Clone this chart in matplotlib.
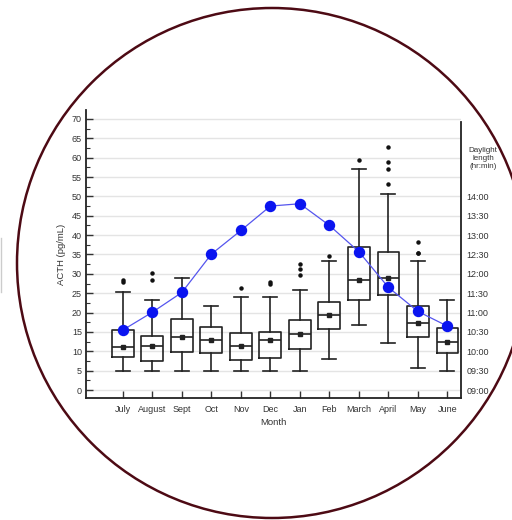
#!/usr/bin/env python3

import numpy as np
import matplotlib
matplotlib.use("Agg")
import matplotlib.pyplot as plt
from matplotlib.patches import Ellipse

plt.rcParams['font.family'] = ['Liberation Sans', 'DejaVu Sans']

months = ["July", "August", "Sept", "Oct", "Nov", "Dec", "Jan", "Feb",
          "March", "April", "May", "June"]

# ACTH (pg/mL) box statistics
whislo = [5, 5, 5, 5, 5, 5, 5, 8.1, 16.8, 12.2, 5.8, 5]
q1 = [8.5, 7.6, 9.8, 9.5, 7.8, 8.4, 10.5, 15.7, 23.3, 24.6, 13.6, 9.5]
med = [11.1, 11.4, 13.8, 13.0, 11.5, 12.8, 14.5, 19.5, 28.4, 28.9, 17.2, 12.5]
q3 = [15.4, 14.0, 18.3, 16.4, 14.7, 15.1, 18.1, 22.8, 36.9, 35.7, 21.6, 15.9]
whishi = [25.2, 23.3, 29.0, 21.7, 24.1, 24.1, 25.9, 33.2, 57.1, 50.5, 33.2, 23.3]
means = [11.1, 11.4, 13.8, 13.0, 11.5, 12.8, 14.5, 19.5, 28.4, 28.9, 17.2, 12.5]
outliers = [[28.3, 27.8], [30.1, 28.3], [], [], [26.3], [28.0, 27.5],
            [32.5, 31.2, 29.8], [34.6], [59.3], [62.8, 58.9, 57.0, 53.1],
            [38.2, 35.5, 35.3], []]

# daylight length in hours (decimal)
daylight = [10.55, 11.01, 11.52, 12.51, 13.12, 13.75, 13.81, 13.25,
            12.57, 11.65, 11.03, 10.65]
daylight_ticks = ["09:00", "09:30", "10:00", "10:30", "11:00", "11:30",
                  "12:00", "12:30", "13:00", "13:30", "14:00"]

TXT = "#333333"


def main():
    fig = plt.figure(figsize=(5.12, 5.20), dpi=100)
    ax = fig.add_axes([86 / 512, 1 - 398 / 520, (461 - 86) / 512, (398 - 110) / 520])

    pos = np.arange(len(months))
    stats = []
    for i in range(len(months)):
        stats.append(dict(whislo=whislo[i], q1=q1[i], med=med[i], q3=q3[i],
                          whishi=whishi[i], mean=means[i], fliers=outliers[i]))
    ax.bxp(stats, positions=pos, widths=0.74, showmeans=True, capwidths=0.47,
           boxprops=dict(color="#222222", lw=1.2),
           whiskerprops=dict(color="#222222", lw=1.2),
           capprops=dict(color="#222222", lw=1.2),
           medianprops=dict(color="#222222", lw=1.2),
           meanprops=dict(marker="s", markerfacecolor="#222222",
                          markeredgecolor="#222222", markersize=3),
           flierprops=dict(marker="o", markerfacecolor="#111111",
                           markeredgecolor="#111111", markersize=2.2),
           zorder=3)

    ax.set_xlim(-1.25, 11.46)
    ax.set_ylim(-2.05, 72.3)
    ax.set_yticks(np.arange(0, 71, 5))
    ax.set_yticks(np.arange(0, 71, 2.5), minor=True)
    for v in np.arange(0, 71, 5):
        ax.axhline(v, color="#e4e4e4", lw=1.0, zorder=0)
    ax.set_xticks(pos)
    ax.set_xticklabels(months)
    ax.tick_params(axis="y", which="major", direction="in", length=5, width=1,
                   labelsize=6.5, colors=TXT, pad=3)
    ax.tick_params(axis="y", which="minor", direction="in", length=3, width=0.8,
                   colors=TXT)
    ax.tick_params(axis="x", direction="in", length=5, width=1, labelsize=6.5,
                   colors=TXT, pad=5)
    ax.spines["top"].set_visible(False)
    ax.spines["right"].set_visible(False)
    ax.spines["left"].set_linewidth(1.3)
    ax.spines["bottom"].set_linewidth(1.3)
    ax.spines["left"].set_color("#222222")
    ax.spines["bottom"].set_color("#222222")
    ax.set_xlabel("Month", fontsize=6.8, color=TXT, labelpad=3)
    ax.set_ylabel("ACTH (pg/mL)", fontsize=6.8, color=TXT, labelpad=4)

    ax2 = ax.twinx()
    ax2.set_ylim(9 - 0.205, 9 + 7.23)
    ax2.plot(pos, daylight, color="#5555ee", lw=0.9, marker="o",
             markersize=7.2, markerfacecolor="#0a14f0",
             markeredgecolor="#0a14f0", zorder=5)
    ax2.set_yticks(np.arange(9, 14.01, 0.5))
    ax2.set_yticklabels(daylight_ticks)
    ax2.tick_params(axis="y", direction="in", length=0, labelsize=6.5,
                    colors=TXT, pad=4)
    for s in ["top", "left", "bottom"]:
        ax2.spines[s].set_visible(False)
    ax2.spines["right"].set_bounds(9 - 0.205, 9 + 6.93)
    ax2.spines["right"].set_linewidth(1.3)
    ax2.spines["right"].set_color("#222222")
    fig.text(483 / 512, 1 - 158 / 520, "Daylight\nlength\n(hr:min)",
             fontsize=5.8, color=TXT, ha="center", va="center", linespacing=1.2)

    # circular frame
    fig.add_artist(Ellipse((272 / 512, 1 - 263 / 520), width=510 / 512,
                           height=510 / 520, transform=fig.transFigure,
                           fill=False, edgecolor="#4d0a14", lw=1.8))
    fig.add_artist(plt.Line2D([1 / 512, 1 / 512], [1 - 238 / 520, 1 - 292 / 520],
                              transform=fig.transFigure, color="#cccccc", lw=1))

    fig.savefig("out.png", dpi=100)


if __name__ == "__main__":
    main()
